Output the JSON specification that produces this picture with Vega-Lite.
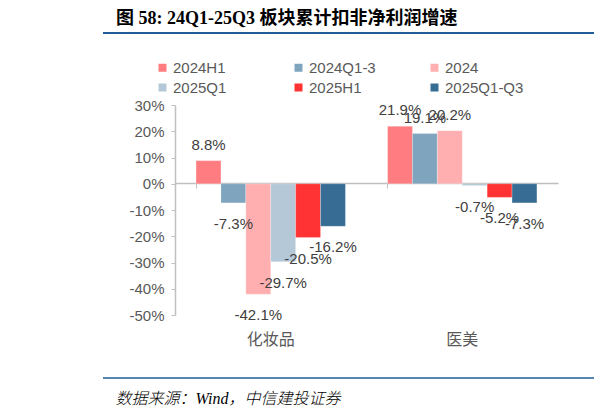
{
  "$schema": "https://vega.github.io/schema/vega-lite/v6.json",
  "width": 383,
  "height": 210,
  "autosize": "none",
  "padding": {"left": 175, "top": 105, "right": 36, "bottom": 102},
  "background": "white",
  "config": {
    "view": {"stroke": null},
    "font": "Liberation Sans"
  },
  "title": {
    "text": "图 58: 24Q1-25Q3 板块累计扣非净利润增速",
    "anchor": "start",
    "font": "Liberation Serif, Noto Sans CJK SC",
    "fontSize": 18,
    "fontWeight": "bold",
    "color": "#000000",
    "baseline": "alphabetic",
    "offset": 6,
    "dx": 14,
    "dy": 16
  },
  "datasets": {
    "growth": [
      {"sector": "化妆品", "period": "2024H1", "value": 0.088},
      {"sector": "化妆品", "period": "2024Q1-3", "value": -0.073},
      {"sector": "化妆品", "period": "2024", "value": -0.421},
      {"sector": "化妆品", "period": "2025Q1", "value": -0.297},
      {"sector": "化妆品", "period": "2025H1", "value": -0.205},
      {"sector": "化妆品", "period": "2025Q1-Q3", "value": -0.162},
      {"sector": "医美", "period": "2024H1", "value": 0.219},
      {"sector": "医美", "period": "2024Q1-3", "value": 0.191},
      {"sector": "医美", "period": "2024", "value": 0.202},
      {"sector": "医美", "period": "2025Q1", "value": -0.007},
      {"sector": "医美", "period": "2025H1", "value": -0.052},
      {"sector": "医美", "period": "2025Q1-Q3", "value": -0.073}
    ]
  },
  "layer": [
    {
      "data": {"name": "growth"},
      "encoding": {
        "x": {
          "field": "sector",
          "type": "nominal",
          "sort": ["化妆品", "医美"],
          "scale": {"paddingInner": 0.22, "paddingOuter": 0.11},
          "axis": {
            "orient": "bottom",
            "offset": -132,
            "domainColor": "#BFBFBF",
            "domainWidth": 1.5,
            "ticks": true,
            "tickColor": "#BFBFBF",
            "tickSize": 5,
            "bandPosition": 0,
            "tickExtra": true,
            "labelAngle": 0,
            "labelPadding": 143,
            "labelFontSize": 16,
            "labelColor": "#595959",
            "labelFont": "Noto Sans CJK SC",
            "title": "数据来源：Wind，中信建投证券",
            "titleFont": "Liberation Serif, Noto Sans CJK SC",
            "titleFontStyle": "italic",
            "titleFontWeight": 300,
            "titleFontSize": 16,
            "titleColor": "#000000",
            "titleAnchor": "start",
            "titleAlign": "left",
            "titleBaseline": "alphabetic",
            "titleX": -60,
            "titleY": 220
          }
        },
        "xOffset": {
          "field": "period",
          "type": "nominal",
          "sort": ["2024H1", "2024Q1-3", "2024", "2025Q1", "2025H1", "2025Q1-Q3"],
          "scale": {"paddingInner": 0, "paddingOuter": 0}
        },
        "y": {
          "field": "value",
          "type": "quantitative",
          "scale": {"domain": [-0.5, 0.3], "nice": false},
          "axis": {
            "values": [-0.5, -0.4, -0.3, -0.2, -0.1, 0, 0.1, 0.2, 0.3],
            "labelExpr": "replace(format(datum.value, '.0%'), '\u2212', '-')",
            "labelOverlap": false,
            "labelFlush": false,
            "grid": false,
            "title": null,
            "domainColor": "#BFBFBF",
            "domainWidth": 1.5,
            "tickColor": "#BFBFBF",
            "tickSize": 4,
            "labelFontSize": 15,
            "labelColor": "#595959",
            "labelPadding": 7
          }
        }
      },
      "layer": [
        {
          "mark": {"type": "bar", "clip": false, "stroke": "#ffffff", "strokeOpacity": 0.5, "strokeWidth": 0.5},
          "encoding": {
            "color": {
              "field": "period",
              "type": "nominal",
              "sort": ["2024H1", "2024Q1-3", "2024", "2025Q1", "2025H1", "2025Q1-Q3"],
              "scale": {
                "domain": ["2024H1", "2024Q1-3", "2024", "2025Q1", "2025H1", "2025Q1-Q3"],
                "range": ["#FF7C80", "#7FA5BE", "#FFAFB0", "#B4C8D7", "#FF3333", "#376C94"]
              },
              "legend": {
                "title": null,
                "orient": "none",
                "legendX": -20,
                "legendY": -45,
                "direction": "horizontal",
                "columns": 3,
                "gridAlign": "all",
                "columnPadding": 39,
                "rowPadding": 4,
                "symbolType": "square",
                "symbolSize": 64,
                "symbolStrokeWidth": 0,
                "symbolOffset": 0,
                "labelOffset": 3,
                "labelFontSize": 15,
                "labelColor": "#595959"
              }
            }
          }
        },
        {
          "mark": {
            "type": "text",
            "clip": false,
            "fontSize": 15,
            "color": "#404040",
            "text": {"expr": "replace(format(datum.value, '.1%'), '\u2212', '-')"},
            "baseline": {"expr": "datum.value < 0 ? 'top' : 'alphabetic'"},
            "dy": {"expr": "datum.value < 0 ? 14 : -11"}
          },
          "encoding": {}
        }
      ]
    },
    {
      "data": {"values": [{}]},
      "mark": {"type": "rule", "color": "#1F5C99", "strokeWidth": 2, "clip": false},
      "encoding": {
        "x": {"datum": -0.188, "type": "quantitative", "scale": {"domain": [0, 1]}, "axis": null},
        "x2": {"datum": 1.1},
        "y": {"datum": 0.574, "type": "quantitative", "axis": null}
      }
    },
    {
      "data": {"values": [{}]},
      "mark": {"type": "rule", "color": "#1F5C99", "strokeWidth": 1.5, "clip": false},
      "encoding": {
        "x": {"datum": -0.188, "type": "quantitative", "scale": {"domain": [0, 1]}, "axis": null},
        "x2": {"datum": 1.1},
        "y": {"datum": -0.74, "type": "quantitative", "axis": null}
      }
    }
  ],
  "resolve": {"scale": {"x": "independent"}, "axis": {"y": "independent"}}
}
